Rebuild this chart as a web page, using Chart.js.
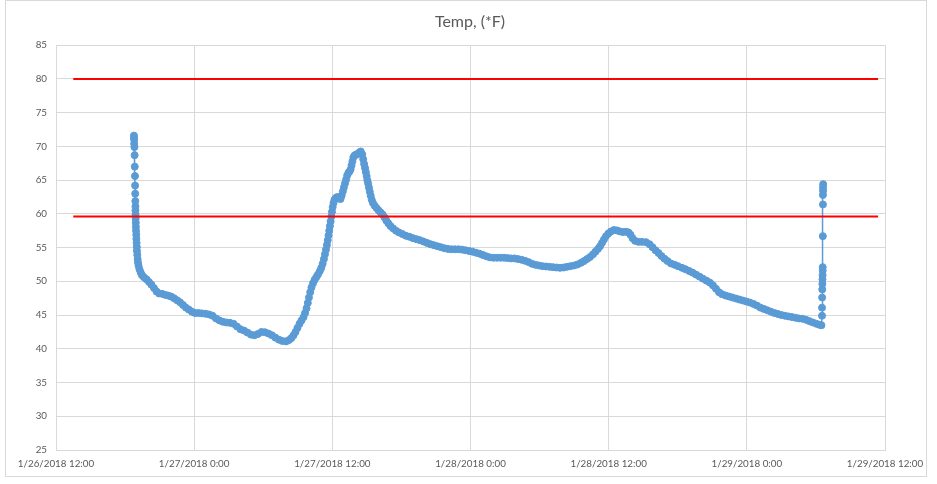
<!DOCTYPE html>
<html>
<head>
<meta charset="utf-8">
<title>Temp, (*F)</title>
<script src="https://cdn.jsdelivr.net/npm/chart.js@4.4.0/dist/chart.umd.min.js"></script>
<style>
  html, body { margin: 0; padding: 0; background: #fff; }
  #frame { position: absolute; left: 5px; top: 0; width: 920px; height: 475px; border: 1px solid #d9d9d9; }
  canvas { display: block; }
</style>
</head>
<body>
<div id="frame"><canvas id="chart" width="920" height="475"></canvas></div>
<script>
// hours since 1/26/2018 12:00
const hours = [
  6.77, 6.77, 6.79, 6.79, 6.81, 6.83, 6.84, 6.86, 6.87, 6.88,
  6.89, 6.90, 6.90, 6.91, 6.92, 6.93, 6.94, 6.95, 6.97, 6.98,
  7.00, 7.02, 7.03, 7.06, 7.09, 7.12, 7.17, 7.25, 7.36, 7.47,
  7.64, 7.86, 8.08, 8.29, 8.51, 8.73, 8.95, 9.21, 9.47, 9.73,
  9.99, 10.25, 10.51, 10.77, 11.03, 11.29, 11.55, 11.81, 12.07, 12.38,
  12.68, 12.98, 13.29, 13.59, 13.90, 14.20, 14.50, 14.81, 15.11, 15.42,
  15.72, 16.02, 16.33, 16.63, 16.94, 17.24, 17.54, 17.85, 18.15, 18.46,
  18.76, 19.06, 19.37, 19.67, 19.98, 20.24, 20.45, 20.63, 20.80, 20.97,
  21.15, 21.32, 21.50, 21.63, 21.76, 21.87, 21.97, 22.08, 22.19, 22.32,
  22.45, 22.60, 22.75, 22.91, 23.04, 23.16, 23.27, 23.36, 23.45, 23.53,
  23.60, 23.67, 23.73, 23.79, 23.85, 23.91, 23.97, 24.03, 24.10, 24.19,
  24.32, 24.45, 24.58, 24.71, 24.81, 24.91, 25.00, 25.10, 25.20, 25.29,
  25.40, 25.50, 25.59, 25.67, 25.75, 25.83, 25.95, 26.08, 26.21, 26.34,
  26.47, 26.60, 26.68, 26.76, 26.84, 26.91, 26.98, 27.04, 27.11, 27.18,
  27.25, 27.33, 27.42, 27.53, 27.68, 27.85, 28.03, 28.20, 28.37, 28.53,
  28.69, 28.86, 29.05, 29.27, 29.53, 29.79, 30.09, 30.40, 30.70, 31.01,
  31.31, 31.61, 31.92, 32.22, 32.53, 32.83, 33.13, 33.44, 33.74, 34.05,
  34.35, 34.65, 34.96, 35.26, 35.57, 35.87, 36.17, 36.48, 36.78, 37.08,
  37.39, 37.69, 38.00, 38.30, 38.61, 38.91, 39.21, 39.52, 39.82, 40.12,
  40.43, 40.73, 41.04, 41.34, 41.64, 41.95, 42.25, 42.56, 42.86, 43.16,
  43.47, 43.77, 44.08, 44.38, 44.68, 44.99, 45.29, 45.60, 45.86, 46.12,
  46.38, 46.64, 46.85, 47.07, 47.25, 47.42, 47.59, 47.77, 47.98, 48.20,
  48.46, 48.72, 48.98, 49.24, 49.50, 49.72, 49.90, 50.07, 50.29, 50.59,
  50.89, 51.24, 51.55, 51.81, 52.07, 52.33, 52.59, 52.85, 53.11, 53.41,
  53.72, 54.02, 54.37, 54.67, 54.98, 55.28, 55.58, 55.89, 56.19, 56.50,
  56.80, 57.06, 57.32, 57.58, 57.84, 58.15, 58.45, 58.75, 59.06, 59.36,
  59.67, 59.97, 60.27, 60.58, 60.88, 61.19, 61.49, 61.79, 62.10, 62.40,
  62.71, 63.01, 63.31, 63.62, 63.92, 64.23, 64.53, 64.83, 65.14, 65.44,
  65.74, 66.05, 66.31, 66.48, 66.53, 66.53, 66.54, 66.55, 66.56, 66.57,
  66.58, 66.59, 66.59, 66.60, 66.61, 66.61, 66.62, 66.62, 66.63
];
const temps = [
  71.6, 71.3, 71.0, 70.4, 69.9, 68.7, 67.0, 65.6, 64.2, 63.0,
  61.9, 61.1, 60.5, 59.9, 59.3, 58.7, 58.1, 57.5, 56.9, 56.3,
  55.7, 55.1, 54.5, 53.9, 53.3, 52.8, 52.3, 51.8, 51.3, 50.9,
  50.6, 50.3, 49.9, 49.5, 49.0, 48.5, 48.2, 48.15, 48.0, 47.9,
  47.75, 47.5, 47.2, 46.9, 46.5, 46.1, 45.8, 45.5, 45.3, 45.3,
  45.25, 45.2, 45.1, 44.9, 44.5, 44.2, 44.0, 43.9, 43.85, 43.7,
  43.3, 42.9, 42.7, 42.4, 42.1, 42.0, 42.2, 42.5, 42.45, 42.25,
  42.0, 41.65, 41.35, 41.15, 41.1, 41.3, 41.6, 42.0, 42.5, 43.1,
  43.7, 44.2, 44.7, 45.3, 46.0, 46.8, 47.6, 48.4, 49.1, 49.7,
  50.2, 50.6, 51.0, 51.5, 52.0, 52.6, 53.3, 54.0, 54.7, 55.4,
  56.1, 56.8, 57.5, 58.2, 58.9, 59.6, 60.3, 61.0, 61.6, 62.1,
  62.4, 62.5, 62.3, 62.2, 62.7, 63.3, 63.9, 64.5, 65.1, 65.7,
  66.1, 66.3, 66.6, 67.2, 67.8, 68.4, 68.7, 68.75, 68.9, 69.1,
  69.25, 68.8, 68.1, 67.4, 66.8, 66.2, 65.6, 65.0, 64.5, 63.9,
  63.3, 62.7, 62.1, 61.6, 61.2, 60.85, 60.5, 60.2, 59.9, 59.5,
  59.0, 58.6, 58.2, 57.85, 57.5, 57.25, 57.0, 56.75, 56.6, 56.4,
  56.25, 56.1, 55.9, 55.7, 55.5, 55.35, 55.2, 55.05, 54.9, 54.8,
  54.75, 54.75, 54.75, 54.7, 54.6, 54.5, 54.4, 54.25, 54.1, 53.9,
  53.7, 53.55, 53.5, 53.5, 53.5, 53.5, 53.45, 53.4, 53.4, 53.3,
  53.2, 53.05, 52.85, 52.6, 52.45, 52.35, 52.25, 52.2, 52.15, 52.1,
  52.05, 52.0, 52.05, 52.15, 52.25, 52.35, 52.5, 52.75, 53.0, 53.3,
  53.6, 54.0, 54.4, 54.8, 55.2, 55.7, 56.2, 56.7, 57.1, 57.4,
  57.6, 57.55, 57.4, 57.3, 57.35, 57.25, 56.9, 56.4, 56.0, 55.85,
  55.85, 55.8, 55.5, 55.05, 54.6, 54.2, 53.75, 53.35, 53.0, 52.65,
  52.45, 52.25, 52.0, 51.8, 51.55, 51.3, 51.0, 50.7, 50.4, 50.1,
  49.8, 49.4, 48.9, 48.4, 48.1, 47.9, 47.75, 47.6, 47.45, 47.3,
  47.15, 47.0, 46.85, 46.65, 46.4, 46.1, 45.9, 45.7, 45.5, 45.3,
  45.15, 45.0, 44.9, 44.8, 44.7, 44.6, 44.5, 44.45, 44.3, 44.1,
  43.9, 43.7, 43.55, 43.5, 44.9, 46.1, 47.6, 48.8, 49.6, 50.3,
  50.9, 51.6, 52.1, 56.7, 61.4, 62.8, 63.4, 63.9, 64.4
];

// the two red limit lines
const limitTemps = [80, 59.6];
const limitHours = [1.5, 71.4];

const xTickLabels = ['1/26/2018 12:00', '1/27/2018 0:00', '1/27/2018 12:00', '1/28/2018 0:00',
  '1/28/2018 12:00', '1/29/2018 0:00', '1/29/2018 12:00'];

let tempPoints = hours.map((h, i) => ({ x: h, y: temps[i] }));

let datasets = limitTemps.map(t => ({
  data: limitHours.map(h => ({ x: h, y: t })),
  borderColor: '#FF0000',
  borderWidth: 2,
  pointRadius: 0,
  fill: false
}));
datasets.push({
  data: tempPoints,
  borderColor: '#5B9BD5',
  backgroundColor: '#5B9BD5',
  borderWidth: 1.5,
  pointRadius: 3.5,
  pointBorderWidth: 1,
  pointBackgroundColor: '#5B9BD5',
  pointBorderColor: '#5B9BD5',
  fill: false
});

let font = { family: 'Lato', size: 9.8 };
let gridColor = '#D9D9D9';

new Chart(document.getElementById('chart'), {
  type: 'line',
  data: { datasets: datasets },
  options: {
    responsive: false,
    animation: false,
    devicePixelRatio: 1,
    layout: { padding: { left: 8, right: 0, top: 0, bottom: 0 } },
    plugins: {
      legend: { display: false },
      tooltip: { enabled: false },
      title: {
        display: true,
        text: 'Temp, (*F)',
        color: '#595959',
        font: { family: 'Lato', size: 16, weight: 'normal' },
        padding: { top: 11, bottom: 14 }
      }
    },
    scales: {
      x: {
        type: 'linear',
        min: 0,
        max: 72,
        afterFit: s => { s.height = 26; s.paddingLeft = 0; s.paddingRight = 41; },
        grid: { color: gridColor, drawTicks: false },
        border: { color: gridColor },
        ticks: {
          stepSize: 12,
          autoSkip: false,
          maxRotation: 0,
          padding: 8,
          color: '#595959',
          font: font,
          callback: v => xTickLabels[Math.round(v / 12)]
        }
      },
      y: {
        min: 25,
        max: 85,
        afterFit: s => { s.width = 42; },
        grid: { color: gridColor, drawTicks: false },
        border: { color: gridColor },
        ticks: { stepSize: 5, padding: 9, color: '#595959', font: font }
      }
    }
  }
});
</script>
</body>
</html>
